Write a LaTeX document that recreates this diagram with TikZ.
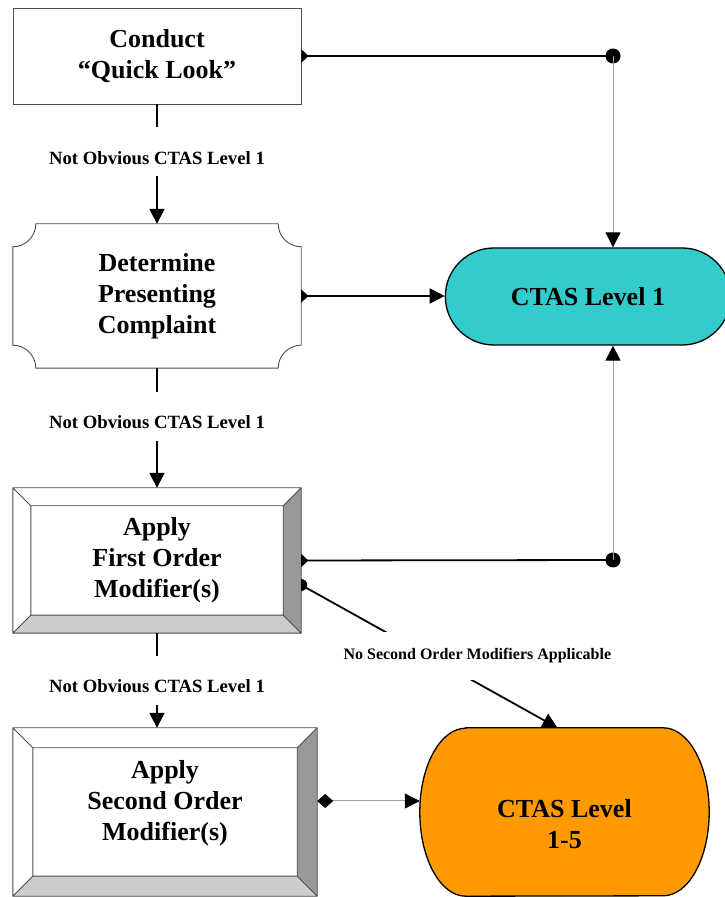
\documentclass[tikz,border=0pt]{standalone}
\usepackage{fontspec}
\setmainfont{Liberation Serif}
\usetikzlibrary{arrows.meta, shapes.misc, backgrounds}

\definecolor{ctasteal}{HTML}{33CCCC}
\definecolor{ctasorange}{HTML}{FF9900}
\definecolor{bevdark}{HTML}{999999}
\definecolor{bevlight}{HTML}{CCCCCC}
\definecolor{wiregrey}{HTML}{A0A0A0}

\newcommand{\boxfont}{\fontsize{26}{31}\selectfont\bfseries}
\newcommand{\lblfont}{\fontsize{18.7}{21}\selectfont\bfseries}
\newcommand{\smallfont}{\fontsize{16}{19}\selectfont\bfseries}

% bevelled frame round a node: #1 node, #2 bevel width
\newcommand{\bevelbox}[2]{
	\fill [bevdark] (#1.north east) -- (#1.south east) -- ([shift = {(-#2, #2)}]#1.south east) -- ([shift = {(-#2, -#2)}]#1.north east) -- cycle;
	\fill [bevlight] (#1.south west) -- (#1.south east) -- ([shift = {(-#2, #2)}]#1.south east) -- ([shift = {(#2, #2)}]#1.south west) -- cycle;
	\draw [boxline] (#1.north west) rectangle (#1.south east)
		([shift = {(#2, -#2)}]#1.north west) rectangle ([shift = {(-#2, #2)}]#1.south east)
		(#1.north west) -- ++(#2, -#2) (#1.north east) -- ++(-#2, -#2)
		(#1.south west) -- ++(#2, #2) (#1.south east) -- ++(-#2, #2);
}

\tikzset{
	task/.style = {align = center, font = \boxfont, inner sep = 0pt},
	boxline/.style = {draw = black!70, line width = 0.9pt},
	pill/.style = {rounded rectangle, draw = black, line width = 1.3pt, fill = ctasteal, minimum width = 292pt, minimum height = 97pt, font = \boxfont},
	lvlfive/.style = {draw = black, line width = 1.3pt, fill = ctasorange},
	wire/.style = {line width = 1.8pt},
	thinwire/.style = {draw = wiregrey, line width = 1pt},
	flow/.style = {wire, ->},
	tail/.style = {{Triangle[reversed, length = 7pt, width = 13pt]}->},
	tailonly/.style = {{Triangle[reversed, length = 7pt, width = 13pt]}-},
	lbl/.style = {fill = white, font = \lblfont, inner ysep = 0pt, inner xsep = 2pt, text height = 37pt, text depth = 12pt},
	nolbl/.style = {fill = white, font = \smallfont, inner ysep = 0pt, inner xsep = 2pt, text height = 27pt, text depth = 21pt}
}

\begin{document}
\begin{tikzpicture}[x = 1pt, y = 1pt, >= {Triangle[length = 15pt, width = 15pt, color = black]}]

	\useasboundingbox (0, 0) rectangle (724, 897);

	% Quick look

	\node [task, boxline, minimum width = 288pt, minimum height = 96pt] (quick) at (157, 841) {Conduct\\“Quick Look”};

	% Presenting complaint

	\node [task, minimum width = 288pt, minimum height = 144pt] (present) at (157, 601) {Determine\\Presenting\\Complaint};
	\draw [boxline] ([xshift = 23pt]present.north west) -- ([xshift = -23pt]present.north east)
		arc [start angle = 180, end angle = 270, radius = 23pt] -- ([yshift = 23pt]present.south east)
		arc [start angle = 90, end angle = 180, radius = 23pt] -- ([xshift = 23pt]present.south west)
		arc [start angle = 0, end angle = 90, radius = 23pt] -- ([yshift = -23pt]present.north west)
		arc [start angle = 270, end angle = 360, radius = 23pt] -- cycle;

	% Modifiers

	\node [task, minimum width = 288pt, minimum height = 145pt] (firstmod) at (157, 336.5) {Apply\\First Order\\Modifier(s)};
	\bevelbox{firstmod}{18}

	\node [task, minimum width = 304pt, minimum height = 168pt, label = {[task, yshift = 9pt]center:Apply\\Second Order\\Modifier(s)}] (secmod) at (165, 85) {};
	\bevelbox{secmod}{20}

	% Levels

	\node [pill] (ctasone) at (588, 600.5) {CTAS Level 1};

	\node [task, minimum width = 289pt, minimum height = 168pt, label = {[task, yshift = -12pt]center:CTAS Level\\1-5}] (ctasfive) at (564.5, 85) {};
	\begin{scope}[on background layer]
		\draw [lvlfive] ([xshift = 46pt]ctasfive.north west) -- ([xshift = -46pt]ctasfive.north east)
			arc [start angle = 90, end angle = -90, x radius = 46pt, y radius = 84pt] -- ([xshift = 46pt]ctasfive.south west)
			arc [start angle = 270, end angle = 90, x radius = 46pt, y radius = 84pt] -- cycle;
	\end{scope}

	% Down the chain

	\draw [flow] (quick) -- node [lbl, pos = 0.396] {Not Obvious CTAS Level 1} (present);
	\draw [flow] (present) -- node [lbl, pos = 0.4] {Not Obvious CTAS Level 1} (firstmod);
	\draw [flow] (firstmod.south) -- node [lbl, pos = 0.495] {Not Obvious CTAS Level 1} (firstmod.south |- secmod.north);

	% Across to level 1

	\coordinate (dottop) at (613, 841);
	\coordinate (dotbot) at (613, 337);

	\draw [wire, tailonly] (quick.east) -- (dottop);
	\fill (dottop) circle [radius = 7.5pt];
	\draw [thinwire, ->] (dottop) -- (dottop |- ctasone.north);

	\draw [wire, tail] (present.east) -- (present.east -| ctasone.west);

	\draw [wire, tailonly] (firstmod.east) -- (dotbot);
	\fill (dotbot) circle [radius = 7.5pt];
	\draw [thinwire, ->] (dotbot) -- (dotbot |- ctasone.south);

	% Across to levels 1-5

	\coordinate (nosec) at ([yshift = -24.5pt]firstmod.east);
	\fill (nosec) ++(0, 6) arc [start angle = 90, end angle = -90, radius = 6pt] -- cycle;
	\draw [flow] (nosec) -- node [nolbl, pos = 0.5, xshift = 48pt] {No Second Order Modifiers Applicable} ([xshift = -7pt]ctasfive.north);

	\coordinate (diamond) at ([yshift = 11pt]secmod.east);
	\draw [thinwire, {Diamond[length = 16pt, width = 14pt, color = black]}->] (diamond) -- (diamond -| ctasfive.west);

\end{tikzpicture}
\end{document}
